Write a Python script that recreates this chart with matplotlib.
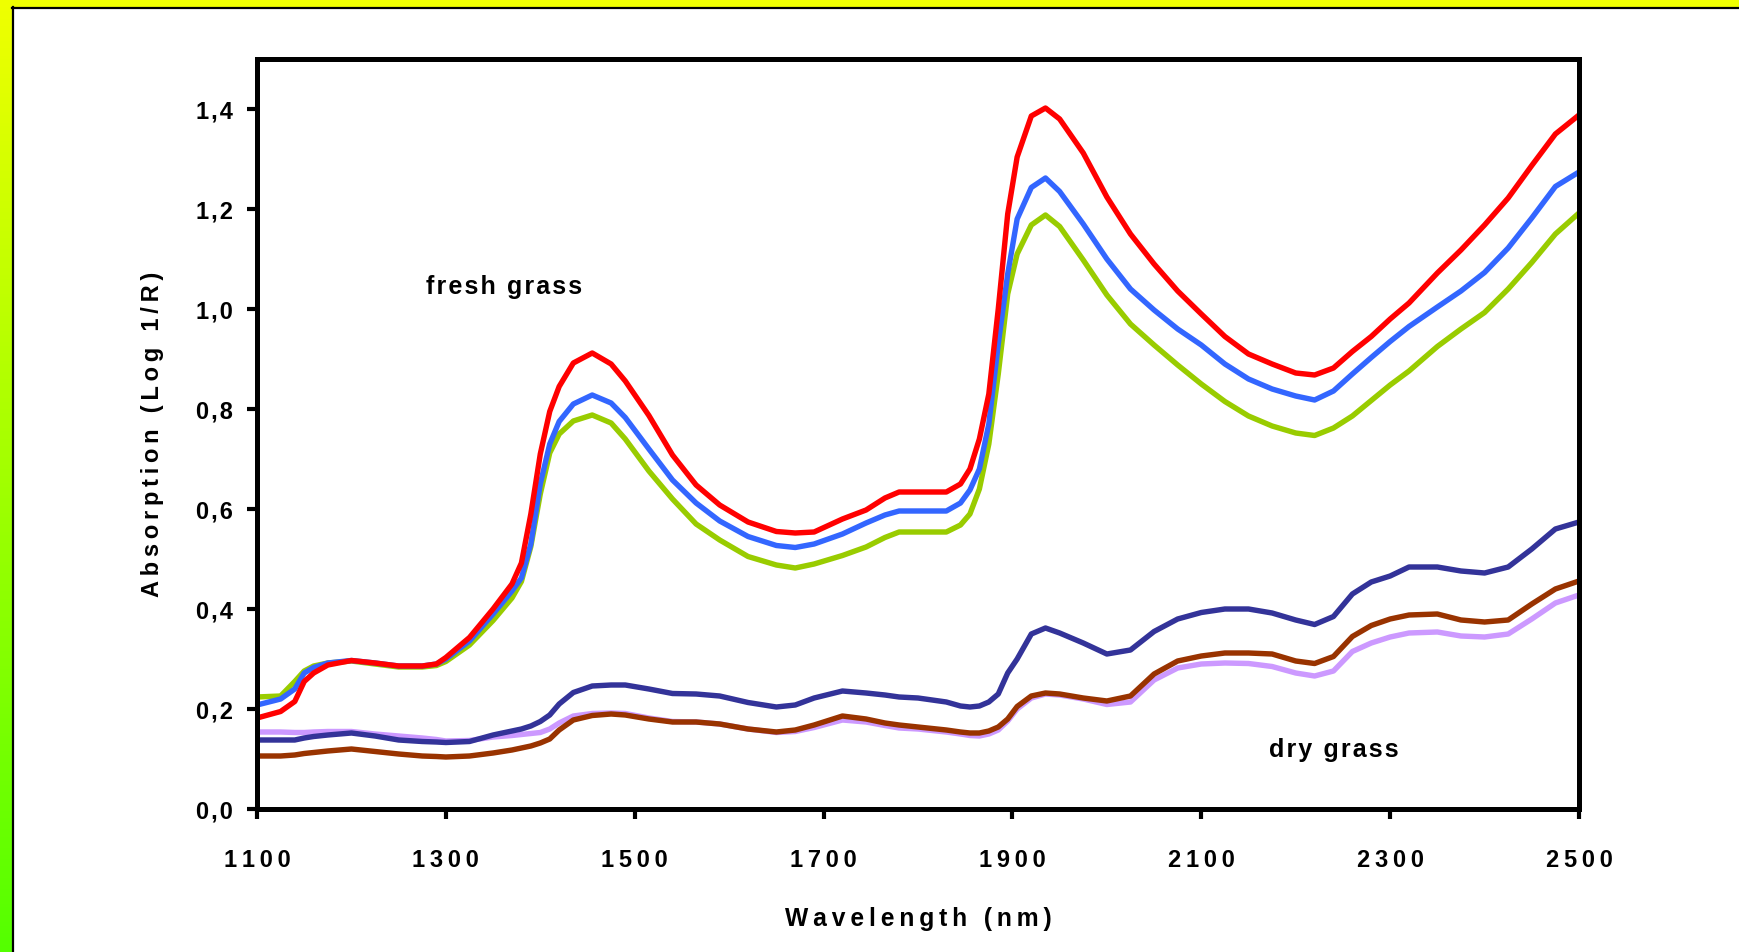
import matplotlib
matplotlib.use("Agg")
import matplotlib.pyplot as plt
import numpy as np
from matplotlib.lines import Line2D

plt.rcParams['font.family'] = ['Liberation Sans', 'DejaVu Sans']

wavelength = [1100, 1125, 1140, 1150, 1160, 1175, 1200, 1225, 1250, 1275, 1290, 1300,
              1325, 1350, 1370, 1380, 1390, 1400, 1410, 1420, 1435, 1455, 1475, 1490,
              1515, 1540, 1565, 1590, 1620, 1650, 1670, 1690, 1720, 1745, 1765, 1780,
              1800, 1830, 1845, 1855, 1865, 1875, 1885, 1895, 1905, 1920, 1935, 1950,
              1975, 2000, 2025, 2050, 2075, 2100, 2125, 2150, 2175, 2200, 2220, 2240,
              2260, 2280, 2300, 2320, 2350, 2375, 2400, 2425, 2450, 2475, 2500]

fresh_red = [0.182, 0.195, 0.215, 0.255, 0.272, 0.288, 0.297, 0.292, 0.286, 0.286, 0.290, 0.303,
             0.343, 0.400, 0.450, 0.492, 0.590, 0.710, 0.795, 0.845, 0.892, 0.912, 0.890, 0.856,
             0.787, 0.708, 0.648, 0.608, 0.574, 0.555, 0.552, 0.554, 0.580, 0.598, 0.622, 0.634,
             0.634, 0.634, 0.650, 0.680, 0.740, 0.830, 1.000, 1.190, 1.304, 1.386, 1.402, 1.380,
             1.312, 1.224, 1.150, 1.090, 1.036, 0.990, 0.945, 0.910, 0.890, 0.872, 0.868, 0.882,
             0.915, 0.945, 0.980, 1.012, 1.072, 1.118, 1.168, 1.222, 1.287, 1.350, 1.388]

fresh_blue = [0.208, 0.220, 0.240, 0.272, 0.283, 0.292, 0.297, 0.292, 0.286, 0.286, 0.290, 0.300,
              0.336, 0.390, 0.436, 0.462, 0.530, 0.650, 0.730, 0.775, 0.810, 0.828, 0.812, 0.783,
              0.720, 0.658, 0.612, 0.576, 0.545, 0.527, 0.523, 0.530, 0.550, 0.572, 0.588, 0.596,
              0.596, 0.596, 0.612, 0.638, 0.680, 0.770, 0.930, 1.070, 1.180, 1.243, 1.262, 1.235,
              1.170, 1.100, 1.040, 0.998, 0.960, 0.928, 0.890, 0.860, 0.840, 0.826, 0.818, 0.836,
              0.870, 0.903, 0.935, 0.965, 1.004, 1.036, 1.073, 1.122, 1.182, 1.245, 1.274]

fresh_green = [0.224, 0.226, 0.255, 0.276, 0.286, 0.292, 0.296, 0.290, 0.284, 0.284, 0.287, 0.295,
               0.328, 0.377, 0.422, 0.455, 0.525, 0.630, 0.712, 0.750, 0.776, 0.788, 0.772, 0.740,
               0.676, 0.620, 0.570, 0.538, 0.505, 0.488, 0.482, 0.490, 0.507, 0.524, 0.543, 0.554,
               0.554, 0.554, 0.568, 0.590, 0.640, 0.730, 0.870, 1.030, 1.110, 1.168, 1.188, 1.165,
               1.098, 1.028, 0.970, 0.928, 0.888, 0.850, 0.815, 0.786, 0.766, 0.752, 0.747, 0.762,
               0.786, 0.817, 0.848, 0.876, 0.925, 0.960, 0.993, 1.040, 1.093, 1.150, 1.192]

dry_navy = [0.138, 0.138, 0.138, 0.142, 0.145, 0.148, 0.152, 0.146, 0.138, 0.135, 0.134, 0.133,
            0.135, 0.148, 0.156, 0.160, 0.166, 0.175, 0.188, 0.210, 0.233, 0.246, 0.248, 0.248,
            0.240, 0.231, 0.230, 0.226, 0.213, 0.204, 0.208, 0.222, 0.236, 0.232, 0.228, 0.224,
            0.222, 0.214, 0.206, 0.204, 0.206, 0.214, 0.230, 0.272, 0.300, 0.350, 0.362, 0.352,
            0.332, 0.310, 0.318, 0.355, 0.380, 0.393, 0.400, 0.400, 0.392, 0.378, 0.369, 0.385,
            0.430, 0.454, 0.466, 0.484, 0.484, 0.476, 0.472, 0.484, 0.520, 0.560, 0.574]

dry_brown = [0.106, 0.106, 0.108, 0.111, 0.113, 0.116, 0.120, 0.115, 0.110, 0.106, 0.105, 0.104,
             0.106, 0.112, 0.118, 0.122, 0.126, 0.132, 0.140, 0.158, 0.178, 0.187, 0.190, 0.188,
             0.180, 0.174, 0.174, 0.170, 0.160, 0.154, 0.158, 0.168, 0.186, 0.180, 0.172, 0.168,
             0.164, 0.158, 0.154, 0.152, 0.152, 0.156, 0.164, 0.180, 0.205, 0.226, 0.232, 0.230,
             0.222, 0.216, 0.226, 0.270, 0.296, 0.306, 0.312, 0.312, 0.310, 0.296, 0.291, 0.305,
             0.345, 0.367, 0.380, 0.388, 0.390, 0.378, 0.374, 0.378, 0.410, 0.440, 0.456]

dry_lavender = [0.154, 0.154, 0.153, 0.153, 0.154, 0.155, 0.155, 0.150, 0.146, 0.142, 0.139, 0.136,
                0.137, 0.144, 0.147, 0.149, 0.151, 0.153, 0.160, 0.172, 0.186, 0.191, 0.192, 0.191,
                0.182, 0.175, 0.174, 0.170, 0.160, 0.153, 0.155, 0.163, 0.178, 0.174, 0.167, 0.162,
                0.160, 0.154, 0.150, 0.147, 0.146, 0.150, 0.158, 0.176, 0.200, 0.222, 0.230, 0.228,
                0.220, 0.209, 0.214, 0.258, 0.282, 0.290, 0.292, 0.291, 0.285, 0.272, 0.266, 0.276,
                0.315, 0.332, 0.344, 0.352, 0.354, 0.346, 0.344, 0.350, 0.380, 0.412, 0.428]

x_ticks = [1100, 1300, 1500, 1700, 1900, 2100, 2300, 2500]
y_ticks = [0.0, 0.2, 0.4, 0.6, 0.8, 1.0, 1.2, 1.4]
y_tick_labels = ["0,0", "0,2", "0,4", "0,6", "0,8", "1,0", "1,2", "1,4"]

W, H = 1739, 952
fig = plt.figure(figsize=(W / 100, H / 100), dpi=100)
fig.patch.set_facecolor('white')

# decorative frame: top yellow strip and left yellow->green gradient strip
top_h = 7 / H
left_w = 12 / W
ax_top = fig.add_axes([0, 1 - top_h, 1, top_h])
ax_top.set_facecolor('#F0FF00')
ax_top.set_xticks([]); ax_top.set_yticks([])
for s in ax_top.spines.values():
    s.set_visible(False)
ax_left = fig.add_axes([0, 0, left_w, 1])
grad = np.linspace(0, 1, 256).reshape(-1, 1)
top_c = np.array([0.94, 1.0, 0.0])
bot_c = np.array([0.33, 1.0, 0.0])
img = top_c[None, None, :] * (1 - grad[:, :, None]) + bot_c[None, None, :] * grad[:, :, None]
ax_left.imshow(img, aspect='auto', extent=[0, 1, 0, 1])
ax_left.set_axis_off()
fig.add_artist(Line2D([left_w + 0.6 / W, left_w + 0.6 / W], [0, 1 - top_h], color='black',
                      lw=1.6, transform=fig.transFigure))
fig.add_artist(Line2D([left_w, 1], [1 - top_h - 0.6 / H, 1 - top_h - 0.6 / H], color='black',
                      lw=1.6, transform=fig.transFigure))

ax = fig.add_axes([257 / W, 1 - 809 / H, (1579 - 257) / W, (809 - 59) / H])
ax.set_facecolor('white')

lw = 3.9
ax.plot(wavelength, dry_lavender, color='#CC99FF', lw=lw, solid_capstyle='round')
ax.plot(wavelength, dry_brown, color='#993300', lw=lw, solid_capstyle='round')
ax.plot(wavelength, dry_navy, color='#333399', lw=lw, solid_capstyle='round')
ax.plot(wavelength, fresh_green, color='#99CC00', lw=lw, solid_capstyle='round')
ax.plot(wavelength, fresh_blue, color='#3366FF', lw=lw, solid_capstyle='round')
ax.plot(wavelength, fresh_red, color='#FF0000', lw=lw, solid_capstyle='round')

thin = '\u2009'
hair = '\u200a'
def spaced(s, sep):
    return sep.join(list(s))

ax.set_xlim(1100, 2500)
ax.set_ylim(0, 1.5)
ax.set_xticks(x_ticks)
ax.set_xticklabels([spaced(str(t), thin) for t in x_ticks])
ax.set_yticks(y_ticks)
ax.set_yticklabels([spaced(t, hair) for t in y_tick_labels])
for s in ax.spines.values():
    s.set_linewidth(3.6)
    s.set_color('black')
ax.tick_params(axis='both', direction='out', length=7.5, width=3.0, color='black',
               labelsize=17)
ax.tick_params(axis='x', pad=21)
ax.tick_params(axis='y', pad=10)
for lab in ax.get_xticklabels() + ax.get_yticklabels():
    lab.set_fontweight('bold')

ax.text(0.5, -0.1467, spaced("Wavelength (nm)", thin), transform=ax.transAxes,
        ha='center', va='center', fontsize=17.7, fontweight='bold')
ax.text(-0.0794, 0.5, spaced("Absorption (Log 1/R)", thin), transform=ax.transAxes,
        ha='center', va='center', rotation=90, fontsize=17, fontweight='bold')
ax.text(1362, 1.044, spaced("fresh grass", hair), ha='center', va='center', fontsize=18,
        fontweight='bold')
ax.text(2240, 0.118, spaced("dry grass", hair), ha='center', va='center', fontsize=18,
        fontweight='bold')

fig.savefig('out.png', dpi=100)
